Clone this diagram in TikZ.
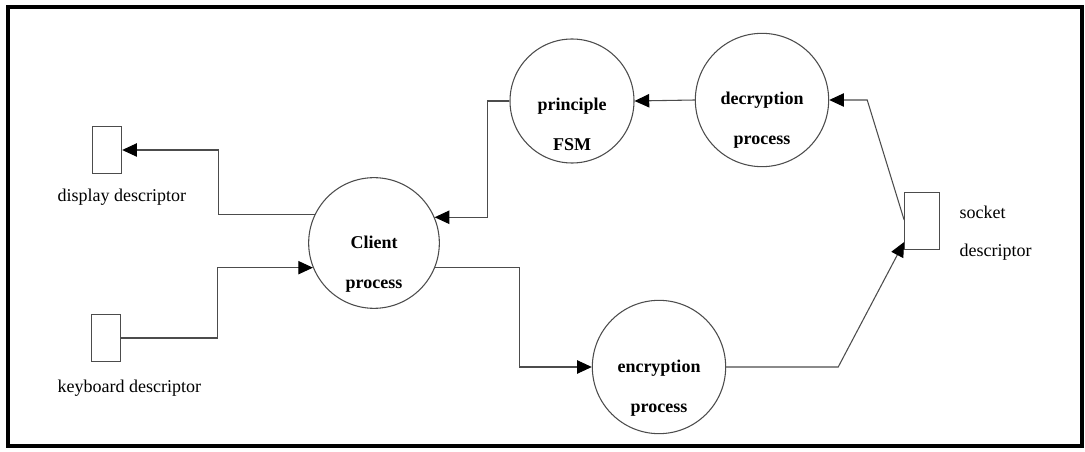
\documentclass[tikz,border=0pt]{standalone}
\usepackage{fontspec}
\setmainfont{Liberation Serif}
\usepackage{tikz}
\usetikzlibrary{positioning, arrows.meta, calc}

\begin{document}
\begin{tikzpicture}[x=0.75pt,y=0.75pt,yscale=-1,
  proc/.style={draw=black!70, line width=0.8pt, circle, inner sep=0pt},
  proctxt/.style={align=center, font=\fontsize{13.5}{30}\selectfont\bfseries},
  store/.style={draw=black!70, line width=0.8pt, rectangle, minimum width=22pt, minimum height=35pt, inner sep=0pt},
  lbl/.style={align=left, anchor=west, font=\fontsize{13.5}{28.5}\selectfont},
  flow/.style={draw=black!70, line width=0.8pt, -{Triangle[length=11pt,width=10pt,color=black]}}]
\useasboundingbox (0,0) rectangle (1085,452);
% frame
\draw [line width=2.4pt] (8,7) rectangle (1082,446);

% processes
\node [proc, minimum size=98pt] (client) at (374,243) {};
\node [proc, minimum size=93pt] (fsm) at (572,101) {};
\node [proc, minimum size=100pt] (decrypt) at (762,100) {};
\node [proc, minimum size=100pt] (encrypt) at (659,367) {};
% descriptors
\node [store] (display) at (107,150) {};
\node [store] (keyboard) at (106,338) {};
\node [store, minimum width=26pt, minimum height=43pt] (socket) at (922,221) {};

% Text Node
\node [proctxt] (client-txt) at ($(client)+(0,21)$) {Client\\process};
% Text Node
\node [proctxt] (fsm-txt) at ($(fsm)+(0,23)$) {principle\\FSM};
% Text Node
\node [proctxt] (decrypt-txt) at ($(decrypt)+(0,20)$) {decryption\\process};
% Text Node
\node [proctxt] (encrypt-txt) at ($(encrypt)+(0,21)$) {encryption\\process};
% Text Node
\node [lbl] (display-lbl) at (53,197) {display descriptor};
% Text Node
\node [lbl] (keyboard-lbl) at (53,388) {keyboard descriptor};
% Text Node
\node [lbl] (socket-lbl) at (955,233) {socket\\descriptor};

% data flows
\draw [flow] (client.154) -| ($(display.east)+(96,0)$) -- (display.east);
\draw [flow] (keyboard.east) -- ($(keyboard.east)+(96,0)$) |- (client.202);
\draw [flow] (client.338) -| ($(encrypt.west)+(-72,0)$) -- (encrypt.west);
\draw [flow] (encrypt.east) -- ++(112,0) -- ($(socket.west)+(0,21)$);
\draw [flow] ($(socket.west)+(0,-1)$) -- ($(decrypt.east)+(38,0)$) -- (decrypt.east);
\draw [flow] (decrypt.west) -- (fsm.east);
\draw [flow] (fsm.west) -- ++(-22,0) |- (client.23);

\end{tikzpicture}
\end{document}
